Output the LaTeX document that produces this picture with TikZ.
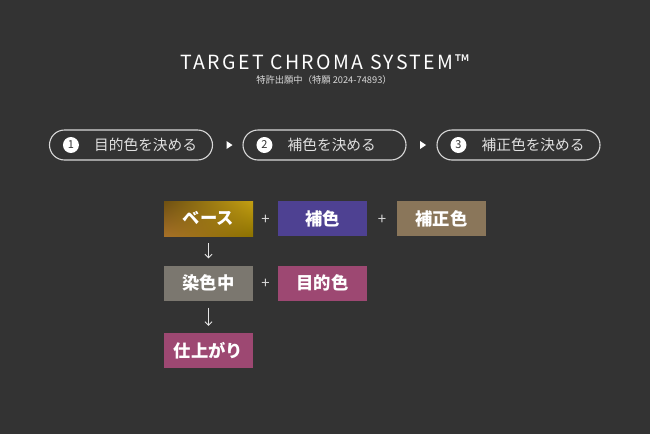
\documentclass[tikz,border=0pt]{standalone}
\usepackage{fontspec}
\setmainfont{Noto Sans CJK JP}
\usetikzlibrary{arrows.meta,shadings}
\definecolor{bg}{HTML}{333333}
\definecolor{lineg}{HTML}{D8D8D8}
\definecolor{hoshoku}{HTML}{4E4192}
\definecolor{hosei}{HTML}{8A765A}
\definecolor{senshoku}{HTML}{7B776F}
\definecolor{mokuteki}{HTML}{9D4872}
\definecolor{baseUL}{HTML}{6E5012}
\definecolor{baseUR}{HTML}{C4A012}
\definecolor{baseLL}{HTML}{A67028}
\definecolor{baseLR}{HTML}{8C7200}
\tikzset{
  pill/.style={draw=lineg, line width=1.1pt, rounded corners=15pt, minimum width=163pt, minimum height=30pt, inner sep=0pt},
  numc/.style={circle, fill=white, minimum size=16pt, inner sep=0pt, text=bg, font=\fontsize{11}{11}\selectfont},
  pilltext/.style={anchor=west, text=white!88!black, inner sep=0pt, font=\fontsize{14.7}{14.7}\selectfont},
  cbox/.style={minimum width=89pt, minimum height=35pt, inner sep=0pt, text=white, font=\fontsize{17.3}{17.3}\selectfont\bfseries},
  plus/.style={text=white!85!black, inner sep=0pt, font=\fontsize{15}{15}\selectfont},
  darr/.style={draw=white!90!black, line width=0.9pt, -{Straight Barb[length=3.5pt,width=7pt]}, shorten <=7pt, shorten >=7pt}
}
\begin{document}
\begin{tikzpicture}[x=1pt,y=-1pt]
\fill[bg] (0,0) rectangle (650,434);
\useasboundingbox (0,0) rectangle (650,434);
% title
\node[text=white, inner sep=0pt, font=\fontsize{19.5}{19.5}\selectfont\addfontfeatures{LetterSpace=12}] (title) at (325,62) {TARGET CHROMA SYSTEM™};
\node[text=white!85!black, inner sep=0pt, font=\fontsize{9.3}{9.3}\selectfont] (sub) at (324,80) {特許出願中（特願 2024-74893）};
% pills
\node[pill] (p1) at (131,145) {};
\node[pill] (p2) at (324.5,145) {};
\node[pill] (p3) at (518.5,145) {};
\node[numc] (c1) at ([xshift=22pt]p1.west) {1};
\node[numc] (c2) at ([xshift=22pt]p2.west) {2};
\node[numc] (c3) at ([xshift=22pt]p3.west) {3};
\node[pilltext] (t1) at ([xshift=45pt]p1.west) {目的色を決める};
\node[pilltext] (t2) at ([xshift=45pt]p2.west) {補色を決める};
\node[pilltext] (t3) at ([xshift=45pt]p3.west) {補正色を決める};
\fill[white] (226.5,141) -- (232.5,145) -- (226.5,149) -- cycle;
\fill[white] (420,141) -- (426,145) -- (420,149) -- cycle;
% boxes
\node[cbox, shade, upper left=baseUL, upper right=baseUR, lower left=baseLL, lower right=baseLR] (base) at (208.5,218.5) {ベース};
\node[cbox, fill=hoshoku] (hos) at (322.5,218.5) {補色};
\node[cbox, fill=hosei] (hsc) at (441.5,218.5) {補正色};
\node[plus] (pl1) at (265.5,219.5) {+};
\node[plus] (pl2) at (382,219.5) {+};
\node[cbox, fill=senshoku] (sen) at (208.5,283) {染色中};
\node[cbox, fill=mokuteki] (mok) at (322.5,283) {目的色};
\node[plus] (pl3) at (265.5,284) {+};
\node[cbox, fill=mokuteki] (fin) at (208.5,350.5) {仕上がり};
\draw[darr] (base.south) -- (sen.north);
\draw[darr] (sen.south) -- (fin.north);
\end{tikzpicture}
\end{document}
